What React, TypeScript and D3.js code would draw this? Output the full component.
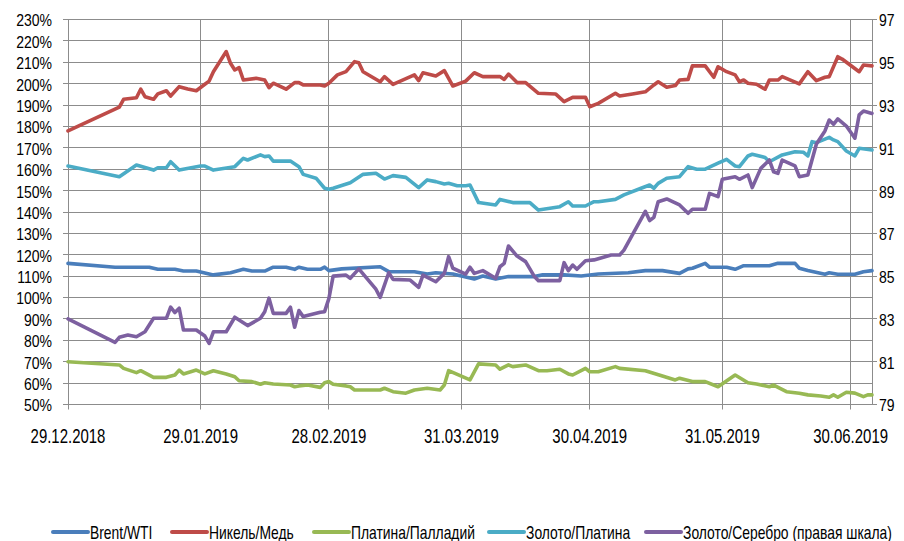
import React from 'react';
import * as d3 from 'd3';

// ---- data (x = days since 29.12.2018, y = value) ----
const brentWti: [number, number][] = [
  [0, 116], [11, 114.2], [19, 114.2], [21, 113.2], [25, 113.2], [27, 112.4], [30, 112.4], [34, 110.6],
  [38, 111.6], [41, 113.2], [43, 112.4], [46, 112.4], [48, 114.2], [51, 114.2], [53, 113.2], [54, 114.2],
  [56, 113.2], [59, 113.2], [60, 114.2], [61, 112.6], [64, 113.4], [73, 114.4], [75, 112.1], [81, 112.1],
  [84, 111], [86, 111.6], [90, 111], [95, 108.7], [97, 110.1], [100, 108.7], [103, 109.8], [109, 109.8],
  [111, 110.6], [116, 110.6], [120, 110.1], [124, 111], [131, 111.6], [135, 112.6], [139, 112.6], [143, 111.3],
  [145, 113.4], [146, 113.7], [149, 116], [150, 114.2], [154, 114.2], [156, 113.2], [158, 114.9], [164, 114.9],
  [166, 116], [170, 116], [171, 113.7], [173, 112.6], [177, 110.9], [178, 111.6], [180, 110.9], [184, 110.9],
  [186, 112.1], [188, 112.6],
];

const nickelCopper: [number, number][] = [
  [0, 177.9], [12, 189], [13, 192.7], [16, 193.4], [17, 197.4], [18, 193.9], [20, 192.7], [21, 195.2],
  [23, 196.7], [24, 194.2], [26, 198.6], [28, 197.5], [30, 196.7], [32, 199.7], [33, 201.2], [34, 205.6],
  [37, 215], [38, 209.5], [39, 206.4], [40, 207.5], [41, 201.7], [44, 202.5], [46, 201.7], [47, 198.1],
  [48, 200.2], [51, 197.4], [53, 200.5], [54, 200.5], [55, 199.4], [59, 199.4], [60, 198.9], [61, 200.2],
  [63, 204.1], [65, 205.6], [67, 210.3], [68, 209.8], [69, 205.6], [73, 200.9], [74, 203.3], [76, 199.7],
  [81, 204.1], [82, 201.4], [83, 205.1], [86, 203.6], [88, 206.1], [90, 198.9], [93, 201.2], [95, 205.1],
  [97, 203.3], [101, 203.3], [102, 202], [103, 204.5], [105, 200.5], [107, 200.5], [110, 195.5], [114, 195.2],
  [116, 191.6], [118, 193.6], [121, 193.6], [122, 189.2], [124, 190.8], [128, 195.5], [129, 194.2], [132, 195.2],
  [135, 196.2], [137, 199.4], [138, 200.9], [140, 198.3], [142, 199.1], [143, 201.7], [145, 202], [146, 208.3],
  [149, 208.3], [151, 203], [152, 207.9], [154, 205.6], [156, 204.1], [157, 200.9], [158, 201.7], [159, 200.2],
  [161, 199.7], [163, 197.4], [164, 201.7], [166, 201.7], [167, 203.3], [171, 199.9], [173, 205.6], [175, 201.4],
  [177, 203], [178, 203.3], [180, 212.6], [181, 211.5], [185, 205.6], [186, 208.7], [188, 208.3],
];

const platinumPalladium: [number, number][] = [
  [0, 70], [12, 68.5], [13, 66.9], [16, 64.9], [17, 65.8], [20, 62.7], [23, 62.7], [25, 63.8],
  [26, 66.1], [27, 64.3], [30, 66.1], [32, 64.3], [34, 65.8], [37, 64.3], [39, 63], [40, 61.1],
  [43, 60.7], [45, 59.5], [46, 60.2], [48, 59.6], [52, 59.1], [53, 58.3], [54, 58.7], [56, 59.1],
  [59, 58], [60, 60.2], [61, 60.7], [62, 59.5], [65, 58.7], [66, 58.3], [67, 56.8], [73, 56.8],
  [74, 57.6], [76, 56], [79, 55.3], [81, 56.8], [84, 57.6], [87, 56.8], [88, 59.1], [89, 65.8],
  [94, 61.5], [96, 69], [100, 68.5], [101, 66.5], [103, 68.5], [104, 67.7], [107, 68.5], [110, 65.8],
  [112, 65.8], [115, 66.5], [117, 64.3], [118, 63.8], [121, 66.9], [122, 65.3], [124, 65.3], [128, 67.7],
  [129, 66.9], [135, 65.8], [139, 63.3], [142, 61.5], [143, 62.3], [146, 60.7], [149, 60.7], [152, 58.3],
  [156, 63.8], [159, 60.2], [161, 59.6], [164, 58.3], [165, 59.1], [168, 56], [171, 55.3], [173, 54.5],
  [176, 54], [178, 53.4], [179, 54.5], [180, 53.4], [182, 55.7], [184, 55.3], [186, 53.7], [187, 54.5],
  [188, 54.5],
];

const goldPlatinum: [number, number][] = [
  [0, 161.5], [12, 156.5], [16, 162], [20, 159.6], [21, 160.7], [23, 160.7], [24, 163.5], [26, 159.6],
  [31, 161.5], [32, 161.5], [34, 159.6], [39, 161.2], [41, 165.1], [42, 164.3], [45, 166.7], [46, 165.9],
  [47, 166.2], [48, 163.8], [52, 163.8], [54, 161.2], [55, 157.6], [58, 155.8], [60, 151.1], [61, 150.6],
  [62, 151.1], [66, 153.7], [69, 157.6], [72, 158.1], [74, 155.4], [76, 157], [79, 156.2], [82, 151.4],
  [84, 155], [86, 154.2], [88, 153.1], [89, 153.4], [91, 152.3], [93, 152.3], [94, 152.6], [96, 144.4],
  [100, 143.3], [101, 145.9], [104, 144.4], [108, 144.4], [110, 140.9], [115, 142.5], [117, 144.8], [118, 142.8],
  [121, 142.8], [123, 144.8], [124, 144.8], [128, 145.9], [130, 148], [134, 151.1], [136, 152.6], [137, 151.1],
  [138, 153.4], [140, 155.8], [143, 156.5], [145, 161.2], [147, 160], [149, 160], [152, 162.8], [154, 164.6],
  [156, 161.5], [157, 161.2], [159, 166.2], [160, 167], [163, 165.5], [164, 163.5], [167, 166.7], [170, 168.2],
  [172, 167.9], [173, 166.2], [174, 172.9], [175, 172.4], [178, 174.9], [179, 173.7], [180, 172.9], [182, 168.5],
  [184, 166.2], [185, 169.8], [188, 169],
];

// right axis
const goldSilver: [number, number][] = [
  [0, 83.0], [11, 81.9], [12, 82.14], [14, 82.25], [16, 82.17], [18, 82.4], [20, 83.03], [23, 83.03],
  [24, 83.55], [25, 83.3], [26, 83.5], [27, 82.48], [30, 82.48], [32, 82.2], [33, 81.86], [34, 82.4],
  [37, 82.4], [39, 83.08], [42, 82.69], [45, 83.03], [46, 83.34], [47, 83.97], [48, 83.26], [51, 83.26],
  [52, 83.55], [53, 82.61], [54, 83.39], [55, 83.11], [59, 83.31], [60, 83.34], [61, 83.95], [62, 85.0],
  [65, 85.05], [66, 84.9], [68, 85.34], [72, 84.39], [73, 84.01], [75, 85.16], [76, 84.85], [80, 84.82],
  [82, 84.48], [83, 85.05], [86, 84.74], [88, 85.13], [89, 85.91], [90, 85.37], [93, 85.1], [94, 85.42],
  [95, 85.13], [97, 85.26], [100, 84.9], [101, 85.44], [102, 85.6], [103, 86.41], [105, 85.94], [107, 85.68],
  [109, 85.0], [110, 84.79], [115, 84.79], [116, 85.63], [117, 85.26], [118, 85.52], [119, 85.32], [121, 85.72],
  [123, 85.76], [127, 85.99], [129, 85.99], [130, 86.22], [135, 88.03], [136, 87.6], [137, 87.75], [138, 88.48],
  [140, 88.61], [143, 88.33], [145, 87.94], [146, 88.13], [149, 88.13], [150, 88.87], [152, 88.72], [153, 89.53],
  [156, 89.65], [157, 89.53], [159, 89.73], [160, 89.14], [162, 90.04], [164, 90.43], [165, 89.88], [166, 89.81],
  [167, 90.43], [170, 90.16], [171, 89.65], [173, 89.73], [175, 91.18], [177, 91.79], [178, 92.3], [179, 92.1],
  [180, 92.35], [182, 92.02], [184, 91.45], [185, 92.54], [186, 92.72], [188, 92.61],
];

const xTickLabels = ['29.12.2018', '29.01.2019', '28.02.2019', '31.03.2019', '30.04.2019', '31.05.2019', '30.06.2019'];
const leftTicks = [50, 60, 70, 80, 90, 100, 110, 120, 130, 140, 150, 160, 170, 180, 190, 200, 210, 220, 230];
const rightTicks = [79, 81, 83, 85, 87, 89, 91, 93, 95, 97];

const seriesNames = ['Brent/WTI', 'Никель/Медь', 'Платина/Палладий', 'Золото/Платина', 'Золото/Серебро (правая шкала)'];
const seriesColors = ['#4A7EBB', '#BE4B48', '#98B954', '#4BACC6', '#7D60A0'];

// ---- layout ----
const W = 904;
const H = 541;
const L = 68, R = 872, T = 19.5, B = 404.5;
const FONT = '"Liberation Sans", Arial, sans-serif';

const T0 = Date.UTC(2018, 11, 29);
const toDate = (d: number) => new Date(T0 + d * 86400000);
const parseLabel = (s: string) => {
  const [dd, mm, yy] = s.split('.').map(Number);
  return new Date(Date.UTC(yy, mm - 1, dd));
};

function NText({ x, y, anchor = 'start', size = 17, sx = 0.82, children }:
  { x: number; y: number; anchor?: 'start' | 'middle' | 'end'; size?: number; sx?: number; children: React.ReactNode }) {
  return (
    <g transform={`translate(${x},${y}) scale(${sx},1)`}>
      <text x={0} y={0} dy="0.36em" textAnchor={anchor} fontSize={size} fill="#000" fontFamily={FONT}>{children}</text>
    </g>
  );
}

export default function App() {
  const x = d3.scaleUtc().domain([toDate(0), toDate(188)]).range([L, R]);
  const yL = d3.scaleLinear().domain([50, 230]).range([B, T]);
  const yR = d3.scaleLinear().domain([79, 97]).range([B, T]);
  const crisp = (v: number) => Math.round(v - 0.5) + 0.5;

  const lineL = d3.line<[number, number]>().x(d => x(toDate(d[0]))).y(d => yL(d[1]));
  const lineR = d3.line<[number, number]>().x(d => x(toDate(d[0]))).y(d => yR(d[1]));

  const series = [
    { data: brentWti, line: lineL },
    { data: nickelCopper, line: lineL },
    { data: platinumPalladium, line: lineL },
    { data: goldPlatinum, line: lineL },
    { data: goldSilver, line: lineR },
  ];

  const grid = '#8C8C8C';
  const legendX = [53, 172, 314, 489, 646];
  const legendY = 532;

  return (
    <svg width={W} height={H} style={{ position: 'absolute', left: 0, top: 0, display: 'block', background: '#fff' }}>
      <rect x={0} y={0} width={W} height={H} fill="#fff" />
      {leftTicks.map(v => (
        <line key={'h' + v} x1={L - 5} x2={R} y1={crisp(yL(v))} y2={crisp(yL(v))} stroke={grid} strokeWidth={1} />
      ))}
      {rightTicks.map(v => (
        <line key={'rt' + v} x1={R} x2={R + 5} y1={crisp(yR(v))} y2={crisp(yR(v))} stroke={grid} strokeWidth={1} />
      ))}
      {xTickLabels.map(s => {
        const px = crisp(x(parseLabel(s)));
        return <line key={'v' + s} x1={px} x2={px} y1={T} y2={B + 5} stroke={grid} strokeWidth={1} />;
      })}
      <line x1={crisp(L)} x2={crisp(L)} y1={T} y2={B} stroke={grid} strokeWidth={1} />
      <line x1={crisp(R)} x2={crisp(R)} y1={T} y2={B} stroke={grid} strokeWidth={1} />
      <line x1={L - 5} x2={R + 5} y1={crisp(B)} y2={crisp(B)} stroke={grid} strokeWidth={1} />

      {leftTicks.map(v => (
        <NText key={'lt' + v} x={52} y={yL(v) + 1} anchor="end" size={16.5} sx={0.85}>{v}%</NText>
      ))}
      {rightTicks.map(v => (
        <NText key={'rl' + v} x={879} y={yR(v) + 1} size={16.5} sx={0.85}>{v}</NText>
      ))}
      {xTickLabels.map(s => (
        <NText key={'xl' + s} x={x(parseLabel(s))} y={436} anchor="middle" size={20.5} sx={0.73}>{s}</NText>
      ))}

      {series.map((s, i) => (
        <path key={'s' + i} d={s.line(s.data) || ''} fill="none" stroke={seriesColors[i]} strokeWidth={3.6}
          strokeLinejoin="round" strokeLinecap="round" />
      ))}

      {seriesNames.map((n, i) => (
        <g key={'lg' + i}>
          <line x1={legendX[i]} x2={legendX[i] + 35} y1={legendY} y2={legendY} stroke={seriesColors[i]} strokeWidth={4} strokeLinecap="round" />
          <NText x={legendX[i] + 37} y={legendY} size={18.5} sx={0.75}>{n}</NText>
        </g>
      ))}
    </svg>
  );
}
